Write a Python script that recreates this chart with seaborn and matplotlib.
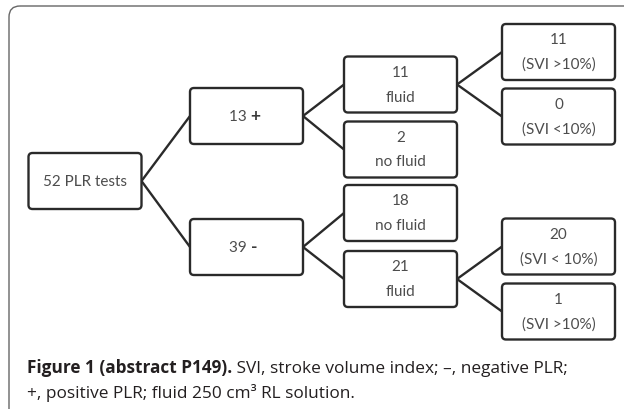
import pandas as pd
import numpy as np
import matplotlib.pyplot as plt
import seaborn as sns
from matplotlib.patches import FancyBboxPatch

## 흐름도 데이터 (상자 안 숫자와 설명)
node_counts = [52, 13, 39, 11, 2, 18, 21, 11, 0, 20, 1]
node_labels = ['PLR tests', '+', '-', 'fluid', 'no fluid', 'no fluid', 'fluid',
               '(SVI >10%)', '(SVI <10%)', '(SVI < 10%)', '(SVI >10%)']
edge_from = [0, 0, 1, 1, 3, 3, 2, 2, 6, 6]
edge_to = [1, 2, 3, 4, 7, 8, 5, 6, 9, 10]
caption_bold = 'Figure 1 (abstract P149).'
caption_rest = ' SVI, stroke volume index; \u2013, negative PLR;'
caption_line2 = '+, positive PLR; fluid 250 cm\u00b3 RL solution.'

## 배치 (픽셀 좌표)
col_x = [85, 246.5, 400.5, 558.5]
node_col = [0, 1, 1, 2, 2, 2, 2, 3, 3, 3, 3]
node_y = [182, 117, 248, 85.5, 150.5, 214, 280, 53, 117.5, 247.5, 312.5]
BOX_W, BOX_H = 113, 56

sns.set_theme(style='white')
plt.rcParams['font.family'] = ['Lato', 'DejaVu Sans']

fig = plt.figure(figsize=(6.24, 4.10), dpi=100)
ax = fig.add_axes([0, 0, 1, 1])

## 연결선
rows = []
for i, (a, b) in enumerate(zip(edge_from, edge_to)):
    rows.append({'edge': i, 'x': col_x[node_col[a]] + BOX_W / 2, 'y': node_y[a]})
    rows.append({'edge': i, 'x': col_x[node_col[b]] - BOX_W / 2, 'y': node_y[b]})
edges = pd.DataFrame(rows)
sns.lineplot(data=edges, x='x', y='y', units='edge', estimator=None, sort=False,
             color='#2a2a2a', linewidth=1.7, ax=ax)

## 상자
txt = dict(ha='center', va='center', fontsize=11, color='#4d4d4d', zorder=4)
for i in range(len(node_counts)):
    cx, cy = col_x[node_col[i]], node_y[i]
    box = FancyBboxPatch((cx - BOX_W / 2 + 4, cy - BOX_H / 2 + 4), BOX_W - 8, BOX_H - 8,
                         boxstyle='round,pad=4', facecolor='white',
                         edgecolor='#2a2a2a', linewidth=1.7, zorder=3)
    ax.add_patch(box)
    if i == 0:
        ax.text(cx, cy, f'{node_counts[i]} {node_labels[i]}', **txt)
    elif i < 3:
        ax.text(cx + 4, cy, f'{node_counts[i]} ', ha='right', va='center',
                fontsize=11, color='#4d4d4d', zorder=4)
        ax.text(cx + 4, cy - 0.5, node_labels[i], ha='left', va='center',
                fontsize=12.5, fontweight='bold', color='#3a3a3a', zorder=4)
    else:
        ax.text(cx, cy - 12.5, str(node_counts[i]), **txt)
        ax.text(cx, cy + 12, node_labels[i], **txt)

## 바깥 테두리
frame = FancyBboxPatch((20, 18), 640, 400, boxstyle='round,pad=11',
                       facecolor='none', edgecolor='#666666', linewidth=1.0)
ax.add_patch(frame)

## 캡션
cap = dict(fontsize=12.4, color='#231f20', family=['Open Sans', 'DejaVu Sans'])
t1 = ax.text(27, 368, caption_bold, ha='left', va='center', fontweight='bold', **cap)
ax.annotate(caption_rest, xy=(1, 0), xycoords=t1, ha='left', va='bottom', **cap)
ax.text(27, 393, caption_line2, ha='left', va='center', **cap)

ax.set_xlim(0, 624)
ax.set_ylim(410, 0)
ax.axis('off')
fig.savefig('out.png', dpi=100)
